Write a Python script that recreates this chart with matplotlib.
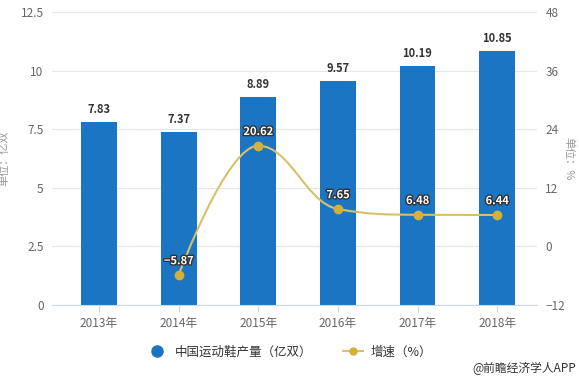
import matplotlib.pyplot as plt
import matplotlib.patheffects as pe
from matplotlib.path import Path
from matplotlib.patches import PathPatch
from matplotlib.lines import Line2D

plt.rcParams['font.family'] = ['Noto Sans CJK SC', 'DejaVu Sans']

# ---- 数据 ----
years = ['2013年', '2014年', '2015年', '2016年', '2017年', '2018年']
output = [7.83, 7.37, 8.89, 9.57, 10.19, 10.85]
growth_years = ['2014年', '2015年', '2016年', '2017年', '2018年']
growth = [-5.87, 20.62, 7.65, 6.48, 6.44]

bar_color = '#1b75c2'
line_color = '#d6c068'
dot_color = '#d4b03c'
grey = '#666666'


def spline_path(xs, ys, smoothing=1.5):
    # 平滑曲线（三次贝塞尔控制点）
    n = len(xs)
    verts = [(xs[0], ys[0])]
    codes = [Path.MOVETO]
    conts = []
    for i in range(n):
        x, y = xs[i], ys[i]
        if i == 0 or i == n - 1:
            conts.append(((x, y), (x, y)))
            continue
        d = smoothing + 1
        lx = (smoothing * x + xs[i - 1]) / d
        ly = (smoothing * y + ys[i - 1]) / d
        rx = (smoothing * x + xs[i + 1]) / d
        ry = (smoothing * y + ys[i + 1]) / d
        if rx != lx:
            corr = (ry - ly) * (rx - x) / (rx - lx) + y - ry
            ly += corr
            ry += corr
        if ly > max(ys[i - 1], y):
            ly = max(ys[i - 1], y)
            ry = 2 * y - ly
        elif ly < min(ys[i - 1], y):
            ly = min(ys[i - 1], y)
            ry = 2 * y - ly
        if ry > max(y, ys[i + 1]):
            ry = max(y, ys[i + 1])
            ly = 2 * y - ry
        elif ry < min(y, ys[i + 1]):
            ry = min(y, ys[i + 1])
            ly = 2 * y - ry
        conts.append(((lx, ly), (rx, ry)))
    for i in range(1, n):
        verts += [conts[i - 1][1], conts[i][0], (xs[i], ys[i])]
        codes += [Path.CURVE4] * 3
    return Path(verts, codes)


fig = plt.figure(figsize=(5.79, 3.77), dpi=100)
ax = fig.add_axes([0.0898, 0.191, 0.8377, 0.777])
ax2 = ax.twinx()

x = list(range(len(years)))
ax.bar(x, output, width=0.45, color=bar_color, zorder=2)
for xi, v in zip(x, output):
    ax.text(xi, v + 0.25, f'{v:.2f}', ha='center', va='bottom',
            fontsize=8, fontweight='bold', color='#333333')

ax.set_ylim(0, 12.5)
ax.set_yticks([0, 2.5, 5, 7.5, 10, 12.5])
ax.set_yticklabels(['0', '2.5', '5', '7.5', '10', '12.5'])
ax.set_xlim(-0.59, 5.5)
ax.set_xticks(x)
ax.set_xticklabels(years)
ax.grid(axis='y', color='#e6e6e6', linewidth=0.8, zorder=0)
ax.set_axisbelow(True)
for s in ['top', 'left', 'right']:
    ax.spines[s].set_visible(False)
ax.spines['bottom'].set_color('#ccd6eb')
ax.tick_params(axis='y', length=0, labelsize=8.5, labelcolor=grey, pad=6)
ax.tick_params(axis='x', length=5, color='#ccd6eb', labelsize=8.5, labelcolor=grey)
ax.set_ylabel('单位：亿双', fontsize=8, color='#999999')
ax.yaxis.set_label_coords(-0.087, 0.5)

gx = [years.index(g) for g in growth_years]
ax2.add_patch(PathPatch(spline_path(gx, growth), fill=False,
                        edgecolor=line_color, linewidth=1.5, zorder=3))
ax2.plot(gx, growth, linestyle='none', marker='o', markersize=6,
         color=dot_color, zorder=4)
for xi, v in zip(gx, growth):
    ax2.text(xi, v + 1.6, f'{v:.2f}'.replace('-', '\u2212'), ha='center',
             va='bottom', fontsize=8, fontweight='bold', color='white', zorder=5,
             path_effects=[pe.withStroke(linewidth=2, foreground='#333333')])

ax2.set_ylim(-12, 48)
ax2.set_yticks([-12, 0, 12, 24, 36, 48])
for s in ['top', 'left', 'right', 'bottom']:
    ax2.spines[s].set_visible(False)
ax2.tick_params(axis='y', length=0, labelsize=8.5, labelcolor=grey, pad=6)
ax2.set_ylabel('单位：%', fontsize=8, color='#999999', rotation=270,
               va='center')
ax2.yaxis.set_label_coords(1.066, 0.5)

handles = [
    Line2D([], [], linestyle='none', marker='o', markersize=8, color=bar_color),
    Line2D([], [], color=line_color, linewidth=1.5, marker='o', markersize=5,
           markerfacecolor=dot_color, markeredgecolor=dot_color),
]
fig.legend(handles, ['中国运动鞋产量（亿双）', '增速（%）'], loc='center',
           bbox_to_anchor=(0.5, 0.066), ncol=2, frameon=False, fontsize=9,
           handlelength=1.6, columnspacing=2.5, handletextpad=0.6,
           labelcolor='#333333')

fig.text(0.995, 0.004, '@前瞻经济学人APP', ha='right', va='bottom',
         fontsize=8.5, color='#333333')

fig.savefig('out.png', dpi=100)
